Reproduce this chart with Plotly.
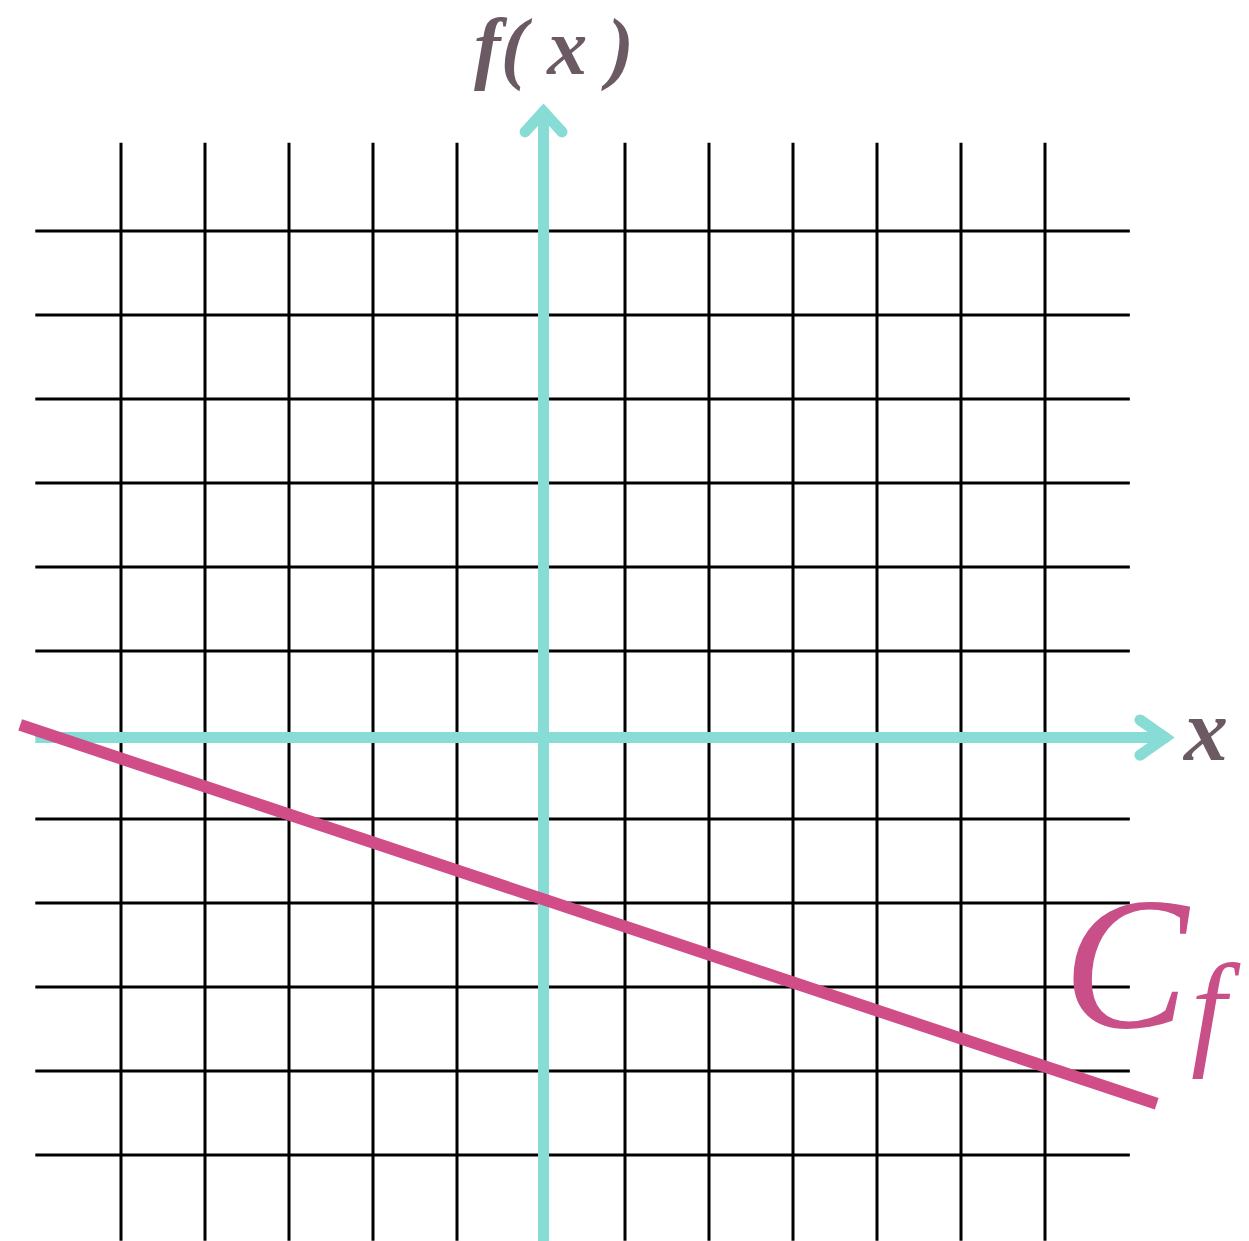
import plotly.graph_objects as go

# grid positions (unit squares), grid spans -6..7 on both axes
grid_x = [-5, -4, -3, -2, -1, 0, 1, 2, 3, 4, 5, 6]
grid_y = [-5, -4, -3, -2, -1, 0, 1, 2, 3, 4, 5, 6]
grid_lo = -6.02
grid_hi_x = 7.01
grid_hi_y = 7.05

# the straight line C_f (end points)
line_x = [-6.2, 7.33]
line_y = [0.12, -4.39]

# axes: body and chevron arrow heads
xaxis_x = [-6.02, 7.43]
xaxis_y = [-0.03, -0.03]
xhead_x = [7.13, 7.43, 7.13]
xhead_y = [0.18, -0.03, -0.24]
yaxis_x = [0.03, 0.03]
yaxis_y = [-6.1, 7.42]
yhead_x = [-0.19, 0.03, 0.25]
yhead_y = [7.18, 7.42, 7.18]

TEAL = "#87dcd5"
PINK = "#d04d88"
LABEL = "#6b5a63"

fig = go.Figure()

# black grid
gx, gy = [], []
for v in grid_x:
    gx += [v, v, None]
    gy += [grid_lo, grid_hi_y, None]
for v in grid_y:
    gx += [grid_lo, grid_hi_x, None]
    gy += [v, v, None]
fig.add_trace(go.Scatter(x=gx, y=gy, mode="lines",
                         line=dict(color="black", width=3), hoverinfo="skip"))

# axes
for ax_x, ax_y in [(xaxis_x, xaxis_y), (yaxis_x, yaxis_y)]:
    fig.add_trace(go.Scatter(x=ax_x, y=ax_y, mode="lines",
                             line=dict(color=TEAL, width=11), hoverinfo="skip"))
for hx, hy in [(xhead_x, xhead_y), (yhead_x, yhead_y)]:
    fig.add_trace(go.Scatter(x=hx, y=hy, mode="lines+markers",
                             line=dict(color=TEAL, width=11),
                             marker=dict(color=TEAL, size=11), hoverinfo="skip"))

# the function
fig.add_trace(go.Scatter(x=line_x, y=line_y, mode="lines",
                         line=dict(color=PINK, width=12), hoverinfo="skip"))

fig.add_annotation(x=0.15, y=8.18, text="<b><i>f( x )</i></b>", showarrow=False,
                   font=dict(family="Liberation Serif", size=80, color=LABEL))
fig.add_annotation(x=7.9, y=0.05, text="<b><i>x</i></b>", showarrow=False,
                   font=dict(family="Liberation Serif", size=88, color=LABEL))
fig.add_annotation(x=6.98, y=-2.72, text="<i>C</i>", showarrow=False,
                   font=dict(family="Liberation Serif", size=188, color="#c94f88"))
fig.add_annotation(x=8.03, y=-3.27, text="<i>f</i>", showarrow=False,
                   font=dict(family="Liberation Serif", size=126, color="#c94f88"))

fig.update_layout(
    width=1249, height=1241,
    margin=dict(l=0, r=0, t=0, b=0),
    paper_bgcolor="white", plot_bgcolor="white",
    showlegend=False,
    xaxis=dict(range=[-541 / 84, 708 / 84], visible=False, fixedrange=True),
    yaxis=dict(range=[-506 / 84, 735 / 84], visible=False, fixedrange=True),
)

# page body has an 8px default margin; drop it so the figure sits at 0,0
fig.write_html("out.html", config={"displayModeBar": False},
               post_script="document.body.style.margin='0px';")
